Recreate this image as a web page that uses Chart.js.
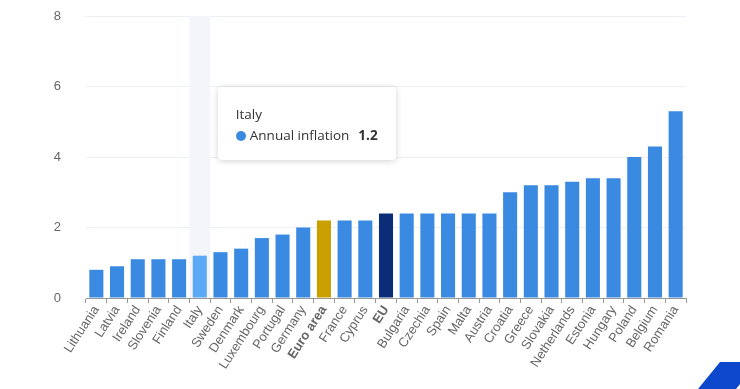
<!DOCTYPE html>
<html>
<head>
<meta charset="utf-8">
<script src="https://cdn.jsdelivr.net/npm/chart.js@4/dist/chart.umd.min.js"></script>
<style>
    html, body { margin: 0; padding: 0; background: #fff; }
    #wrap { position: relative; width: 740px; height: 389px; overflow: hidden; }
    #tip {
        position: absolute;
        background: #fff;
        border-radius: 4px;
        box-shadow: 0 1px 6px rgba(0, 0, 0, 0.18);
        padding: 18px 18px 16px 18px;
        font-family: 'Open Sans', sans-serif;
        color: #333;
        font-size: 13.5px;
        white-space: nowrap;
        pointer-events: none;
    }
    #tip .title { margin-bottom: 3px; }
    #tip .dot { display: inline-block; width: 10px; height: 10px; border-radius: 50%; margin-right: 4px; vertical-align: -1px; }
    #tip b { margin-left: 9px; }
    #corner {
        position: absolute;
        left: 698px; top: 362px; width: 60px; height: 27px;
        background: #0d47cc;
        clip-path: polygon(22px 0, 60px 0, 38px 27px, 0 27px);
    }
</style>
</head>
<body>
<div id="wrap">
    <canvas id="chart" width="740" height="389"></canvas>
    <div id="tip" style="display:none"></div>
    <div id="corner"></div>
</div>
<script>
// Data
const countries = ['Lithuania', 'Latvia', 'Ireland', 'Slovenia', 'Finland', 'Italy', 'Sweden', 'Denmark',
    'Luxembourg', 'Portugal', 'Germany', 'Euro area', 'France', 'Cyprus', 'EU', 'Bulgaria', 'Czechia',
    'Spain', 'Malta', 'Austria', 'Croatia', 'Greece', 'Slovakia', 'Netherlands', 'Estonia', 'Hungary',
    'Poland', 'Belgium', 'Romania'];
const inflation = [0.8, 0.9, 1.1, 1.1, 1.1, 1.2, 1.3, 1.4, 1.7, 1.8, 2.0, 2.2, 2.2, 2.2, 2.4, 2.4, 2.4,
    2.4, 2.4, 2.4, 3.0, 3.2, 3.2, 3.3, 3.4, 3.4, 4.0, 4.3, 5.3];
const yTicks = [0, 2, 4, 6, 8];
const seriesName = 'Annual inflation';
const activeCountry = 'Italy';

const baseColor = '#3a8ae2';
const hoverColor = '#5ca9f6';
const specialColors = { 'Euro area': '#c9a000', 'EU': '#0b2d78' };
const boldLabels = ['Euro area', 'EU'];

const activeIndex = countries.indexOf(activeCountry);

const barColors = countries.map((c, i) => {
    if (specialColors[c]) return specialColors[c];
    return i === activeIndex ? hoverColor : baseColor;
});

// Hover band behind the active column
const hoverBand = {
    id: 'hoverBand',
    beforeDatasetsDraw(chart) {
        const x = chart.scales.x;
        const area = chart.chartArea;
        const w = (area.right - area.left) / countries.length;
        const cx = x.getPixelForValue(activeIndex);
        const ctx = chart.ctx;
        ctx.save();
        ctx.fillStyle = '#f3f5fb';
        ctx.fillRect(cx - w / 2, area.top, w, area.bottom - area.top);
        ctx.restore();
    }
};

function showTooltip(chart) {
    const tip = document.getElementById('tip');
    const meta = chart.getDatasetMeta(0).data[activeIndex];
    tip.innerHTML = '<div class="title">' + countries[activeIndex] + '</div>' +
        '<div><span class="dot" style="background:' + baseColor + '"></span>' + seriesName +
        '<b>' + inflation[activeIndex] + '</b></div>';
    tip.style.display = 'block';
    tip.style.left = (meta.x + 18) + 'px';
    tip.style.top = (chart.chartArea.top + 71) + 'px';
}

const chart = new Chart(document.getElementById('chart'), {
    type: 'bar',
    data: {
        labels: countries,
        datasets: [{
            label: seriesName,
            data: inflation,
            backgroundColor: barColors,
            borderWidth: 0,
            barPercentage: 0.68,
            categoryPercentage: 1
        }]
    },
    plugins: [hoverBand],
    options: {
        responsive: false,
        animation: false,
        events: [],
        layout: { padding: { top: 16, right: 54, left: 0, bottom: 0 } },
        plugins: {
            legend: { display: false },
            tooltip: { enabled: false }
        },
        scales: {
            x: {
                grid: { display: true, drawOnChartArea: false, drawTicks: true, tickLength: 5, color: '#999' },
                border: { display: true, color: '#999' },
                ticks: {
                    color: '#666',
                    minRotation: 57,
                    maxRotation: 57,
                    autoSkip: false,
                    padding: 0,
                    font: ctx => ({
                        family: "'Liberation Sans', Arial, sans-serif",
                        size: 13,
                        weight: boldLabels.includes(countries[ctx.index]) ? 'bold' : 'normal'
                    })
                },
                afterFit: scale => { scale.height = 91; }
            },
            y: {
                min: 0,
                max: 8,
                afterBuildTicks: scale => { scale.ticks = yTicks.map(v => ({ value: v })); },
                grid: { color: '#eceff5', drawTicks: false },
                border: { display: false },
                ticks: {
                    color: '#666',
                    padding: 25,
                    font: { family: "'Liberation Sans', Arial, sans-serif", size: 13 }
                },
                afterFit: scale => {
                    scale.width = 86;
                    scale.paddingTop = 0;
                    scale.paddingBottom = 0;
                }
            }
        }
    }
});

showTooltip(chart);
</script>
</body>
</html>
